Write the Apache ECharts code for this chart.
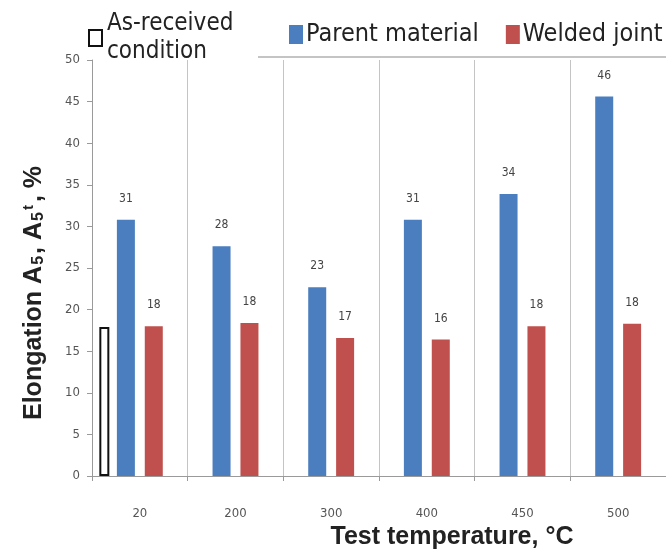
<!DOCTYPE html>
<html>
<head>
<meta charset="utf-8">
<script src="https://cdn.jsdelivr.net/npm/echarts@6/dist/echarts.min.js"></script>
<style>
html,body{margin:0;padding:0;background:#fff;}
#chart{width:666px;height:555px;}
</style>
</head>
<body>
<div id="chart"></div>
<script>
// ---- data ----
var categories = ['20', '200', '300', '400', '450', '500'];
var parentMaterial = [30.8, 27.6, 22.7, 30.8, 33.9, 45.6];
var weldedJoint = [18.0, 18.4, 16.6, 16.4, 18.0, 18.3];
var asReceived = [17.9, null, null, null, null, null];
var yTicks = [0, 5, 10, 15, 20, 25, 30, 35, 40, 45, 50];

var chart = echarts.init(document.getElementById('chart'), null, {renderer: 'canvas'});

var narrow = "'Liberation Sans Narrow', 'DejaVu Sans Condensed', sans-serif";
var legendFont = "'DejaVu Sans Condensed', 'DejaVu Sans', sans-serif";
var boldFont = "'Liberation Sans', Arial, sans-serif";

var valueLabel = {
  show: true,
  position: 'top',
  distance: 15,
  fontFamily: narrow,
  fontSize: 12,
  color: '#444',
  formatter: function (p) { return Math.round(p.value); }
};

var option = {
  backgroundColor: '#fff',
  animation: false,
  grid: {left: 92, top: 60, width: 582, height: 416},
  legend: [
    {
      data: ['As-received condition'],
      left: 86, top: 8,
      padding: [2, 4, 0, 2],
      itemWidth: 13, itemHeight: 16,
      icon: 'rect',
      formatter: function () { return 'As-received\ncondition'; },
      textStyle: {fontFamily: legendFont, fontSize: 24, lineHeight: 28, color: '#222'}
    },
    {
      data: ['Parent material', 'Welded joint'],
      left: 289, top: 22,
      padding: 0,
      itemGap: 27,
      itemWidth: 14, itemHeight: 19,
      icon: 'rect',
      textStyle: {fontFamily: legendFont, fontSize: 25, color: '#222', padding: [0, 0, 0, -2]}
    }
  ],
  xAxis: [
    {
      type: 'category',
      data: categories,
      gridIndex: 0,
      name: 'Test temperature, °C',
      nameLocation: 'middle',
      nameGap: 49,
      nameTextStyle: {fontFamily: boldFont, fontWeight: 'bold', fontSize: 25, color: '#222', padding: [0, 0, 0, 146]},
      axisLine: {show: true, lineStyle: {color: '#9a9a9a', width: 1}},
      axisTick: {show: true, length: 5, lineStyle: {color: '#9a9a9a'}},
      axisLabel: {margin: 31, fontFamily: narrow, fontSize: 13, color: '#555'},
      splitLine: {show: true, lineStyle: {color: '#c4c4c4', width: 1}}
    },
    {
      type: 'category',
      data: categories,
      gridIndex: 0,
      show: false
    }
  ],
  yAxis: {
    type: 'value',
    min: yTicks[0],
    max: yTicks[yTicks.length - 1],
    interval: yTicks[1] - yTicks[0],
    name: 'Elongation A{s|5}, A{s|5}{t|t}, %',
    nameLocation: 'middle',
    nameGap: 45,
    nameTextStyle: {
      fontFamily: boldFont, fontWeight: 'bold', fontSize: 25, color: '#222',
      padding: [0, 50, 0, 0],
      rich: {
        s: {fontFamily: boldFont, fontWeight: 'bold', fontSize: 16, color: '#222', verticalAlign: 'bottom', lineHeight: 26, padding: [0, 2, 0, 1]},
        t: {fontFamily: boldFont, fontWeight: 'bold', fontSize: 15, color: '#222', verticalAlign: 'top', lineHeight: 26, padding: [0, 3, 0, 0]}
      }
    },
    axisLine: {show: true, lineStyle: {color: '#9a9a9a', width: 1}},
    axisTick: {show: true, length: 5, lineStyle: {color: '#9a9a9a'}},
    axisLabel: {margin: 12, fontFamily: narrow, fontSize: 13, color: '#555'},
    splitLine: {show: false}
  },
  graphic: [
    {type: 'line', shape: {x1: 258, y1: 57, x2: 666, y2: 57}, style: {stroke: '#b0b0b0', lineWidth: 1.5}, silent: true}
  ],
  series: [
    {
      name: 'Parent material',
      type: 'bar',
      xAxisIndex: 0,
      data: parentMaterial,
      barWidth: 18,
      barGap: '55%',
      itemStyle: {color: '#4a7ebf'},
      label: valueLabel
    },
    {
      name: 'Welded joint',
      type: 'bar',
      xAxisIndex: 0,
      data: weldedJoint,
      barWidth: 18,
      barGap: '55%',
      itemStyle: {color: '#c0504d'},
      label: valueLabel
    },
    {
      name: 'As-received condition',
      type: 'bar',
      xAxisIndex: 1,
      data: asReceived,
      barWidth: 10,
      barGap: '610%',
      itemStyle: {color: '#ffffff', borderColor: '#111', borderWidth: 2}
    },
    {
      name: 'spacer',
      type: 'bar',
      xAxisIndex: 1,
      data: categories.map(function () { return null; }),
      barWidth: 10,
      barGap: '610%',
      itemStyle: {color: 'transparent'}
    }
  ]
};

chart.setOption(option);
</script>
</body>
</html>
